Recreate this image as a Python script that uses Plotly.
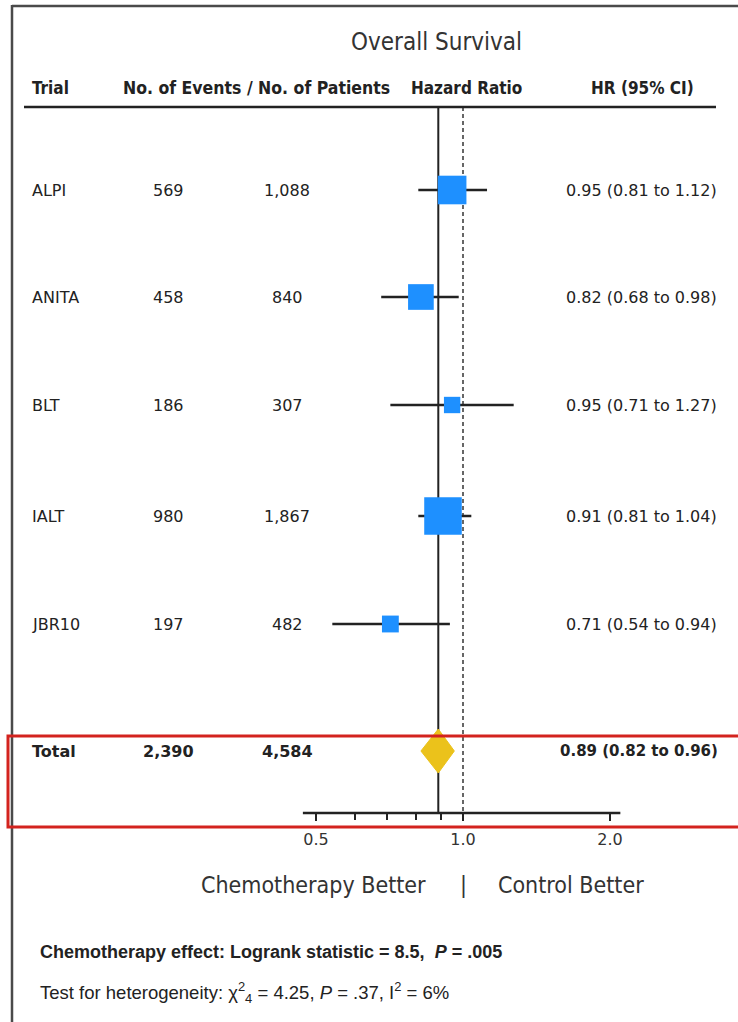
import math
import plotly.graph_objects as go

# ---- data -------------------------------------------------------------
trials = ["ALPI", "ANITA", "BLT", "IALT", "JBR10"]
events = [569, 458, 186, 980, 197]
patients = [1088, 840, 307, 1867, 482]
hr = [0.95, 0.82, 0.95, 0.91, 0.71]
ci_low = [0.81, 0.68, 0.71, 0.81, 0.54]
ci_high = [1.12, 0.98, 1.27, 1.04, 0.94]

total_events = 2390
total_patients = 4584
total_hr = 0.89
total_low = 0.82
total_high = 0.96

major_ticks = [0.5, 1.0, 2.0]
major_labels = ["0.5", "1.0", "2.0"]
minor_ticks = [0.6, 0.7, 0.8, 0.9]

# ---- layout constants (pixels) ----------------------------------------
W, H = 738, 1022
ROW_Y = [190, 297, 405, 516, 624]
TOTAL_Y = 751
AXIS_Y = 813
RULE_Y = 107
DIAMOND_HALF_H = 22
X_HALF_PX, X_TWO_PX = 316, 610          # pixel columns of HR 0.5 and 2.0

# log10 x-range so that the axis spans the whole figure width
per_px = (math.log10(2.0) - math.log10(0.5)) / (X_TWO_PX - X_HALF_PX)
x_range = [math.log10(0.5) - X_HALF_PX * per_px,
           math.log10(0.5) + (W - X_HALF_PX) * per_px]

COND = "Liberation Sans Narrow, DejaVu Sans Condensed, Roboto Condensed, Arial Narrow, sans-serif"
BODY = "DejaVu Sans, Verdana, sans-serif"
FOOT = "Liberation Sans, Arial, sans-serif"
INK = "#222222"
BLUE = "#1E90FF"
GOLD = "#EBC21B"


def px(x):
    return x / W


fig = go.Figure()

# confidence interval whiskers
wx, wy = [], []
for lo, hi, y in zip(ci_low, ci_high, ROW_Y):
    wx += [lo, hi, None]
    wy += [y, y, None]
fig.add_trace(go.Scatter(x=wx, y=wy, mode="lines",
                         line=dict(color=INK, width=2.5),
                         hoverinfo="skip", showlegend=False))

# study squares, side proportional to sqrt(events)
sizes = [1.2 * math.sqrt(e) for e in events]
fig.add_trace(go.Scatter(x=hr, y=ROW_Y, mode="markers",
                         marker=dict(symbol="square", size=sizes, color=BLUE,
                                     opacity=1, line=dict(width=0)),
                         hoverinfo="skip", showlegend=False))

# pooled estimate diamond
fig.add_trace(go.Scatter(
    x=[total_low, total_hr, total_high, total_hr, total_low],
    y=[TOTAL_Y, TOTAL_Y - DIAMOND_HALF_H, TOTAL_Y, TOTAL_Y + DIAMOND_HALF_H, TOTAL_Y],
    mode="lines", fill="toself", fillcolor=GOLD,
    line=dict(color=GOLD, width=1), hoverinfo="skip", showlegend=False))

shapes = [
    # outer frame (top and left)
    dict(type="line", xref="paper", yref="y", x0=px(12), x1=1.0, y0=6, y1=6,
         line=dict(color="#4a4a4a", width=2.5)),
    dict(type="line", xref="paper", yref="y", x0=px(12), x1=px(12), y0=5, y1=H,
         line=dict(color="#4a4a4a", width=2.5)),
    # header rule
    dict(type="line", xref="paper", yref="y", x0=px(24), x1=px(716), y0=RULE_Y, y1=RULE_Y,
         line=dict(color=INK, width=2.5)),
    # pooled HR reference line
    dict(type="line", xref="x", yref="y", x0=total_hr, x1=total_hr, y0=RULE_Y, y1=AXIS_Y,
         line=dict(color=INK, width=2), layer="below"),
    # no-effect line
    dict(type="line", xref="x", yref="y", x0=1.0, x1=1.0, y0=RULE_Y, y1=AXIS_Y,
         line=dict(color="#666666", width=2, dash="4px,3px"), layer="below"),
    # axis line
    dict(type="line", xref="x", yref="y", x0=0.47, x1=2.1, y0=AXIS_Y, y1=AXIS_Y,
         line=dict(color=INK, width=2.5)),
    # highlight box around the total row
    dict(type="rect", xref="paper", yref="y", x0=px(8), x1=1.02, y0=736, y1=827,
         line=dict(color="#D3231E", width=3), fillcolor="rgba(0,0,0,0)"),
]

ann = []


def text(x, y, s, size, family, anchor="left", color=INK):
    ann.append(dict(x=px(x), y=y, xref="paper", yref="y", text=s, showarrow=False,
                    xanchor=anchor, yanchor="middle",
                    font=dict(size=size, family=family, color=color)))


# titles
text(437, 42, "Overall Survival", 24, COND, "center", "#333333")
text(30, 88, "<b>Trial</b>", 17, COND)
text(256, 88, "<b>No. of Events / No. of Patients</b>", 17.5, COND, "center")
text(466, 88, "<b>Hazard Ratio</b>", 17, COND, "center")
text(642, 88, "<b>HR (95% CI)</b>", 17, COND, "center")

# study rows
for name, e, n, h, lo, hi, y in zip(trials, events, patients, hr, ci_low, ci_high, ROW_Y):
    text(30, y, name, 16, BODY)
    text(168, y, f"{e:,}", 16, BODY, "center")
    text(287, y, f"{n:,}", 16, BODY, "center")
    text(719, y, f"{h:.2f} ({lo:.2f} to {hi:.2f})", 16, BODY, "right")

# total row
text(30, TOTAL_Y, "<b>Total</b>", 16, BODY)
text(168, TOTAL_Y, f"<b>{total_events:,}</b>", 16, BODY, "center")
text(287, TOTAL_Y, f"<b>{total_patients:,}</b>", 16, BODY, "center")
text(720, TOTAL_Y, f"<b>{total_hr:.2f} ({total_low:.2f} to {total_high:.2f})</b>", 15, BODY, "right")

# direction labels
text(428, 885, "Chemotherapy Better", 23, COND, "right", "#333333")
text(463, 885, "|", 23, COND, "center", "#333333")
text(496, 885, "Control Better", 23, COND, "left", "#333333")

# footnotes
text(38, 952, "<b>Chemotherapy effect: Logrank statistic = 8.5,\u00a0 <i>P</i> = .005</b>", 18, FOOT)
text(38, 992, "Test for heterogeneity: \u03c7<sup>2</sup><sub>4</sub> = 4.25, <i>P</i> = .37, I<sup>2</sup> = 6%",
     18.5, FOOT)

fig.update_layout(
    width=W, height=H,
    margin=dict(l=0, r=0, t=0, b=0),
    paper_bgcolor="white", plot_bgcolor="white",
    shapes=shapes, annotations=ann,
    xaxis=dict(type="log", range=x_range, domain=[0, 1],
               anchor="free", position=1 - AXIS_Y / H,
               showgrid=False, zeroline=False, showline=False,
               tickmode="array", tickvals=major_ticks, ticktext=major_labels,
               ticks="outside", ticklen=7, tickwidth=2, tickcolor=INK,
               minor=dict(tickmode="array", tickvals=minor_ticks, ticks="outside",
                          ticklen=6, tickwidth=2, tickcolor=INK, showgrid=False),
               ticklabelstandoff=5,
               tickfont=dict(size=16, family=BODY, color="#333333")),
    yaxis=dict(range=[H, 0], domain=[0, 1], visible=False, showgrid=False, zeroline=False),
    showlegend=False,
)

fig.write_html("out.html")
